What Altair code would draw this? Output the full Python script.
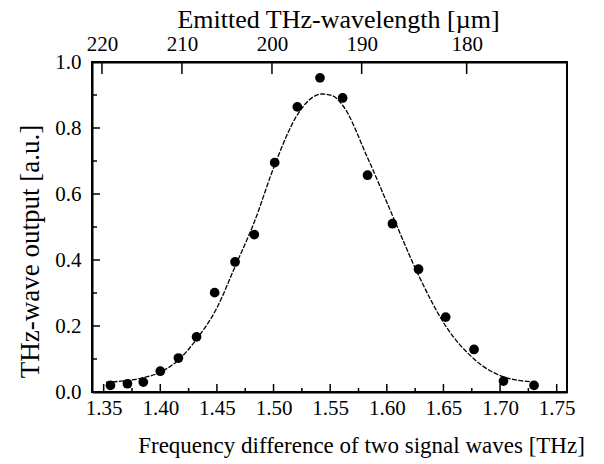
import altair as alt
import pandas as pd

# Measured data points
freq = [1.356, 1.371, 1.385, 1.400, 1.416, 1.432, 1.448, 1.466, 1.483, 1.501,
        1.521, 1.541, 1.561, 1.583, 1.605, 1.628, 1.652, 1.677, 1.703, 1.730]
output = [0.020, 0.025, 0.030, 0.063, 0.103, 0.167, 0.301, 0.394, 0.477, 0.695,
          0.864, 0.952, 0.891, 0.657, 0.510, 0.372, 0.227, 0.129, 0.033, 0.020]

# Fitted curve
fit_freq = [1.352, 1.369, 1.385, 1.400, 1.416, 1.432, 1.450, 1.466, 1.483, 1.501,
            1.521, 1.534, 1.543, 1.552, 1.561, 1.583, 1.605, 1.628, 1.652, 1.677,
            1.703, 1.730]
fit_out = [0.030, 0.034, 0.043, 0.060, 0.097, 0.160, 0.255, 0.380, 0.515, 0.688,
           0.840, 0.892, 0.903, 0.898, 0.869, 0.710, 0.535, 0.354, 0.200, 0.100,
           0.046, 0.030]

# Axis ticks
x_major = [1.35, 1.40, 1.45, 1.50, 1.55, 1.60, 1.65, 1.70, 1.75]
x_minor = [1.375, 1.425, 1.475, 1.525, 1.575, 1.625, 1.675, 1.725]
y_major = [0.0, 0.2, 0.4, 0.6, 0.8, 1.0]
y_minor = [0.1, 0.3, 0.5, 0.7, 0.9]
top_labels = ["220", "210", "200", "190", "180"]
top_freq = [1.3485, 1.4191, 1.4986, 1.5778, 1.6705]

W, H = 475, 330
FONT = "Liberation Serif"
xdom = [1.3397, 1.7591]

pts = pd.DataFrame({"f": freq, "v": output})
fit = pd.DataFrame({"f": fit_freq, "v": fit_out})

xscale = alt.Scale(domain=xdom, nice=False, zero=False)
yscale = alt.Scale(domain=[0, 1], nice=False)

label_expr = ""
for lab, fq in zip(top_labels, top_freq):
    label_expr += f"abs(datum.value - {fq}) < 0.001 ? '{lab}' : "
label_expr += "''"

common = dict(grid=False, domain=True, domainColor="black", domainWidth=2,
              labelFont=FONT, labelColor="black", titleFont=FONT,
              titleFontWeight="normal", titleColor="black", ticks=False)

bottom_axis = alt.Axis(
    values=x_major, format=".2f", labelFontSize=21, labelPadding=5,
    title="Frequency difference of two signal waves [THz]", titleFontSize=23,
    titleX=269, titleY=60, titleAlign="center", titleBaseline="alphabetic", **common,
)
left_axis = alt.Axis(
    values=y_major, format=".1f", labelFontSize=21, labelPadding=11,
    title="THz-wave output [a.u.]", titleFontSize=27,
    titleX=-54, titleY=189, titleAngle=-90, titleAlign="center",
    titleBaseline="alphabetic", **common,
)
top_axis = alt.Axis(
    orient="top", values=top_freq, labelExpr=label_expr, labelFontSize=21, labelPadding=8,
    title="Emitted THz-wavelength [\u00b5m]", titleFontSize=26,
    titleX=246, titleY=-35, titleAlign="center", titleBaseline="alphabetic", **common,
)

points = alt.Chart(pts).mark_circle(size=95, color="black", opacity=1).encode(
    x=alt.X("f:Q", scale=xscale, axis=bottom_axis),
    y=alt.Y("v:Q", scale=yscale, axis=left_axis),
)

curve = alt.Chart(fit).mark_line(
    color="black", strokeWidth=1.3, strokeDash=[5, 1.5], interpolate="monotone"
).encode(
    x=alt.X("f:Q", scale=xscale),
    y=alt.Y("v:Q", scale=yscale),
)

xmaj = alt.Chart(pd.DataFrame({"f": x_major})).mark_rule(color="black", strokeWidth=1.5).encode(
    x=alt.X("f:Q", scale=xscale), y=alt.value(H), y2=alt.value(H - 8))
xmin = alt.Chart(pd.DataFrame({"f": x_minor})).mark_rule(color="black", strokeWidth=1.5).encode(
    x=alt.X("f:Q", scale=xscale), y=alt.value(H), y2=alt.value(H - 4))
ymaj = alt.Chart(pd.DataFrame({"v": y_major})).mark_rule(color="black", strokeWidth=1.5).encode(
    y=alt.Y("v:Q", scale=yscale), x=alt.value(0), x2=alt.value(8))
ymin = alt.Chart(pd.DataFrame({"v": y_minor})).mark_rule(color="black", strokeWidth=1.5).encode(
    y=alt.Y("v:Q", scale=yscale), x=alt.value(0), x2=alt.value(5))
top_ticks = alt.Chart(pd.DataFrame({"f": top_freq})).mark_rule(
    color="black", strokeWidth=1.5).encode(
    x=alt.X("f:Q", scale=xscale), y=alt.value(0), y2=alt.value(12))

main = alt.layer(points, curve, xmaj, xmin, ymaj, ymin, top_ticks)

top_layer = alt.Chart(pd.DataFrame({"f": top_freq})).mark_point(opacity=0).encode(
    x=alt.X("f:Q", scale=xscale, axis=top_axis),
)

chart = alt.layer(main, top_layer).resolve_axis(x="independent").properties(
    width=W, height=H,
    autosize=alt.AutoSizeParams(type="none"),
    padding={"left": 84, "top": 54, "right": 20, "bottom": 66},
    background="white",
).configure_view(stroke="black", strokeWidth=2)

chart.save("out.html", embed_options={"renderer": "svg", "actions": False})
